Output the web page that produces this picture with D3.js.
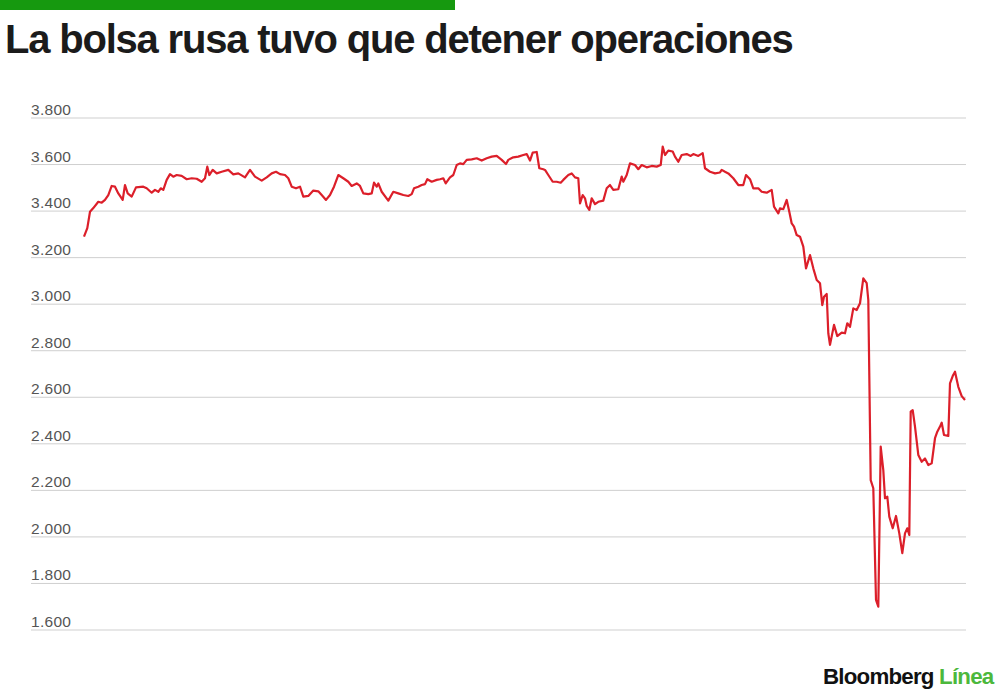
<!DOCTYPE html>
<html>
<head>
<meta charset="utf-8">
<script src="https://cdn.jsdelivr.net/npm/d3@7"></script>
<style>
  body { margin: 0; background: #fff; }
  svg { display: block; }
</style>
</head>
<body>
<div id="chart"></div>
<script>
// índice de sesión (eje de tiempo, sin etiquetas) y valor del índice
const sesiones = [0, 3.3, 6, 9.3, 14.3, 17.7, 21, 24.3, 27.7, 31, 34.3, 38.7, 41, 43.7, 47.7, 52, 59.3, 62.7, 67.7, 71,
  74.3, 76.7, 79.3, 82.7, 86, 89.3, 92.7, 97.7, 102.7, 107.7, 112.7, 117.7, 121, 123.3, 125.3, 128.7, 132.7, 137.7, 144.3, 149.3,
  154.3, 161, 166, 171, 177.7, 182.7, 187.7, 192, 196, 201, 204.3, 207.7, 212, 216, 219.3, 224.3, 229.3, 234.3, 237.7, 242,
  246, 250, 254.3, 259.3, 264.3, 267.7, 272.7, 276, 279.3, 284.3, 287.7, 290, 292.7, 294.3, 297.7, 304.3, 309.3, 314.3, 319.3, 324.3,
  327.7, 330, 334.3, 337.7, 341, 343.3, 347.7, 352.7, 356, 359.3, 361.7, 366, 369.3, 372.7, 376, 379.3, 382.7, 387.7, 392.7, 397.7,
  402.7, 407.7, 412.7, 417.7, 422, 424.3, 429.3, 434.3, 439.3, 442.7, 446, 448.7, 452.7, 455.3, 459.3, 461, 464.3, 468.7, 472.7, 476.7,
  479.3, 484.3, 487.7, 491, 494.3, 496, 498.7, 501, 502.7, 505.3, 507.7, 511, 514.3, 519.3, 522.7, 526, 529.3, 534.3, 537.7, 539.3,
  542.7, 546, 551, 554.3, 557.7, 562.7, 567.7, 572.7, 576.7, 578.7, 581, 584.3, 588.7, 591, 594.3, 597.7, 602.7, 606.7, 609.3, 614.3,
  618.7, 621, 626, 631, 636, 637.7, 641, 644.3, 649.3, 654.3, 659.3, 662, 666, 669.3, 674.3, 677.7, 682.7, 687.7, 690, 694.3,
  696, 699.3, 702.7, 705.3, 707.7, 710, 712.7, 716, 719.3, 722, 726, 729.3, 732.7, 736, 738.3, 740, 742.7, 744.3, 746, 750,
  753.3, 757.7, 761, 763.3, 766, 769.3, 772.7, 776, 779.3, 782.7, 784.3, 786.7, 789.3, 792, 794.3, 796.7, 799.3, 801, 803.3, 805.3,
  808.7, 812, 815.3, 818.3, 821, 823.3, 825.3, 826.7, 828.7, 831, 834.3, 837.7, 841, 844.3, 847.7, 851, 853.3, 856, 857.7, 860,
  864.3, 866, 868.7, 871, 874.3, 877.7, 881];

const valores = [3290, 3327, 3397, 3413, 3440, 3436, 3448, 3469, 3508, 3505, 3476, 3448, 3512, 3476, 3462, 3502, 3505, 3498, 3479, 3491,
  3483, 3498, 3491, 3534, 3559, 3548, 3555, 3551, 3537, 3541, 3539, 3526, 3541, 3591, 3555, 3577, 3562, 3569, 3577, 3558,
  3562, 3545, 3577, 3548, 3531, 3545, 3562, 3569, 3559, 3555, 3541, 3505, 3498, 3505, 3462, 3465, 3488, 3485, 3469, 3448,
  3469, 3505, 3555, 3541, 3526, 3508, 3519, 3508, 3476, 3473, 3476, 3522, 3505, 3519, 3483, 3445, 3483, 3476, 3469, 3465,
  3473, 3498, 3505, 3512, 3516, 3537, 3526, 3534, 3537, 3541, 3519, 3545, 3555, 3598, 3605, 3602, 3620, 3622, 3627, 3617,
  3627, 3634, 3637, 3620, 3602, 3620, 3631, 3634, 3641, 3645, 3617, 3651, 3654, 3584, 3580, 3577, 3555, 3526, 3526, 3522,
  3534, 3555, 3562, 3545, 3541, 3433, 3469, 3455, 3422, 3405, 3455, 3430, 3440, 3445, 3498, 3512, 3491, 3494, 3548, 3526,
  3555, 3605, 3598, 3580, 3598, 3588, 3594, 3591, 3598, 3677, 3641, 3660, 3656, 3634, 3612, 3641, 3645, 3637, 3645, 3637,
  3649, 3584, 3569, 3562, 3566, 3577, 3569, 3562, 3541, 3512, 3512, 3555, 3537, 3498, 3498, 3483, 3479, 3491, 3419, 3390,
  3412, 3408, 3448, 3397, 3347, 3333, 3297, 3290, 3247, 3154, 3211, 3154, 3104, 3090, 2996, 3032, 3044, 2875, 2825, 2911,
  2863, 2878, 2875, 2918, 2903, 2982, 2975, 3004, 3111, 3090, 3018, 2244, 2209, 1729, 1700, 2388, 2287, 2166, 2173, 2087,
  2037, 2090, 2015, 1930, 2015, 2037, 2008, 2538, 2545, 2474, 2352, 2323, 2337, 2309, 2316, 2424, 2452, 2474, 2491, 2438,
  2434, 2660, 2691, 2710, 2645, 2605, 2588];

const ticksY = [1600, 1800, 2000, 2200, 2400, 2600, 2800, 3000, 3200, 3400, 3600, 3800];

const titulo = "La bolsa rusa tuvo que detener operaciones";

const W = 1000, H = 696;

const svg = d3.select("#chart")
    .append("svg")
    .attr("width", W)
    .attr("height", H);

// barra verde superior
svg.append("rect")
    .attr("x", 0)
    .attr("y", 0)
    .attr("width", 455)
    .attr("height", 10)
    .attr("fill", "#16990f");

// texto ajustado a un ancho dado cambiando el tamaño de letra
function fitText(sel, target, spacing) {
    sel.attr("letter-spacing", spacing);
    const fs = +sel.attr("font-size");
    const w = sel.node().getComputedTextLength();
    sel.attr("font-size", (fs * target / w).toFixed(2));
}

const title = svg.append("text")
    .attr("x", 5)
    .attr("y", 53)
    .attr("font-family", "'Liberation Sans', Arial, sans-serif")
    .attr("font-weight", 700)
    .attr("font-size", 36)
    .attr("fill", "#1b1b1b")
    .text(titulo);
fitText(title, 782, -1.2);

const x = d3.scaleLinear()
    .domain([0, d3.max(sesiones)])
    .range([84, 965]);

const y = d3.scaleLinear()
    .domain([1600, 3800])
    .range([630, 118]);

const fmt = d => d3.format(",")(d).replace(",", ".");

svg.append("g")
    .selectAll("line")
    .data(ticksY)
    .join("line")
    .attr("x1", 31)
    .attr("x2", 966)
    .attr("y1", d => y(d))
    .attr("y2", d => y(d))
    .attr("stroke", "#cfcfcf")
    .attr("stroke-width", 1);

svg.append("g")
    .selectAll("text")
    .data(ticksY)
    .join("text")
    .attr("x", 31)
    .attr("y", d => y(d) - 3)
    .attr("font-family", "'Liberation Sans', Arial, sans-serif")
    .attr("font-size", 15.5)
    .attr("letter-spacing", 0.3)
    .attr("fill", "#555")
    .text(fmt);

const serie = sesiones.map((s, i) => ({ s: s, v: valores[i] }));

const line = d3.line()
    .x(d => x(d.s))
    .y(d => y(d.v))
    .curve(d3.curveLinear);

svg.append("path")
    .datum(serie)
    .attr("d", line)
    .attr("fill", "none")
    .attr("stroke", "#dc1f2a")
    .attr("stroke-width", 2.2)
    .attr("stroke-linejoin", "round");

// logo
const logo = svg.append("text")
    .attr("x", 823)
    .attr("y", 684)
    .attr("font-family", "'Liberation Sans', Arial, sans-serif")
    .attr("font-weight", 700)
    .attr("font-size", 20);
logo.append("tspan").attr("fill", "#111").text("Bloomberg ");
logo.append("tspan").attr("fill", "#4cb83c").text("Línea");
fitText(logo, 169, -0.8);
</script>
</body>
</html>
